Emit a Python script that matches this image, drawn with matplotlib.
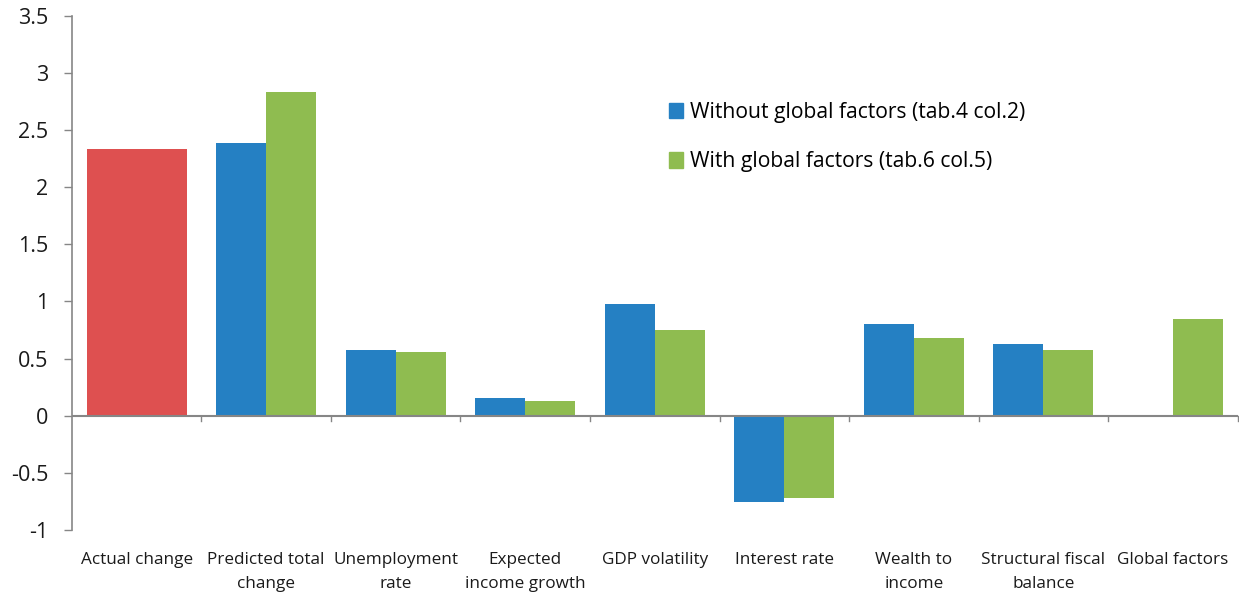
import matplotlib
matplotlib.use("Agg")
import matplotlib.pyplot as plt
from matplotlib.patches import Patch
import numpy as np

categories = ["Actual change", "Predicted total\nchange", "Unemployment\nrate",
              "Expected\nincome growth", "GDP volatility", "Interest rate",
              "Wealth to\nincome", "Structural fiscal\nbalance", "Global factors"]
actual_change = 2.335
without_global = [np.nan, 2.39, 0.575, 0.155, 0.98, -0.755, 0.805, 0.63, np.nan]
with_global = [np.nan, 2.835, 0.56, 0.13, 0.75, -0.72, 0.68, 0.575, 0.845]
yticks = [-1, -0.5, 0, 0.5, 1, 1.5, 2, 2.5, 3, 3.5]
ytick_labels = ["-1", "-0.5", "0", "0.5", "1", "1.5", "2", "2.5", "3", "3.5"]
legend_labels = ["Without global factors (tab.4 col.2)", "With global factors (tab.6 col.5)"]

BLUE = "#2580C3"
GREEN = "#8FBC50"
RED = "#DE5050"
AXIS = "#868686"

plt.rcParams['font.family'] = ['Open Sans', 'DejaVu Sans']

fig = plt.figure(figsize=(12.39, 5.92), dpi=100)
ax = fig.add_axes([0.058, 0.105, 0.941, 0.868])

x = np.arange(len(categories))
w = 0.386
ax.bar(x[0], actual_change, width=0.77, color=RED)
ax.bar(x - w / 2, without_global, width=w, color=BLUE)
ax.bar(x + w / 2, with_global, width=w, color=GREEN)

ax.set_xlim(-0.5, len(categories) - 0.5)
ax.set_ylim(-1, 3.5)
ax.set_yticks(yticks)
ax.set_yticklabels(ytick_labels, fontsize=15.5, color="#1a1a1a")
ax.tick_params(axis='y', length=6, color=AXIS, width=1, pad=11)

for s in ["top", "right", "bottom"]:
    ax.spines[s].set_visible(False)
ax.spines["left"].set_color(AXIS)
ax.spines["left"].set_linewidth(1.2)

# category axis sits on zero, with boundary ticks hanging below it
ax.axhline(0, color=AXIS, lw=1.5, zorder=3)
ax.set_xticks([])
for b in np.arange(0.5, len(categories), 1.0):
    ax.plot([b, b], [0, -0.05], color=AXIS, lw=1, clip_on=False, zorder=3)

for i, lab in enumerate(categories):
    ax.text(i, -1.19, lab, ha="center", va="top", fontsize=12.3,
            color="#1a1a1a", linespacing=1.7)

handles = [Patch(color=BLUE), Patch(color=GREEN)]
leg = fig.legend(handles, legend_labels, loc="upper left",
                 bbox_to_anchor=(0.525, 0.86), frameon=False, fontsize=15.2,
                 handlelength=0.62, handleheight=0.75, handletextpad=0.35,
                 labelspacing=1.35)

fig.savefig("out.png", dpi=100, facecolor="white")
